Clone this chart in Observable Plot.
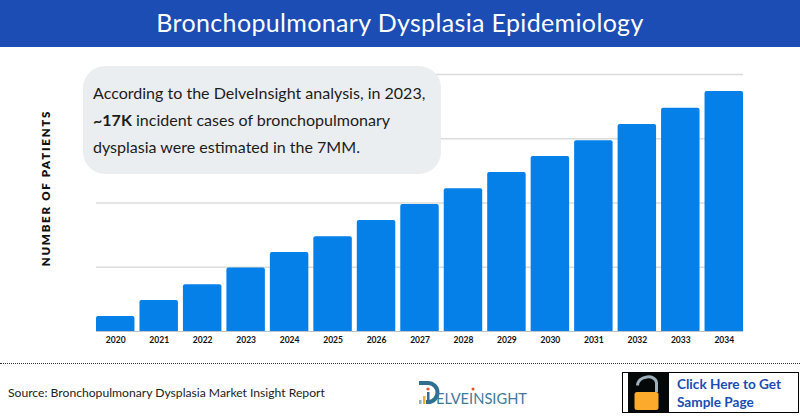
<!DOCTYPE html>
<html><head><meta charset="utf-8">
<script src="https://cdn.jsdelivr.net/npm/d3@7"></script>
<script src="https://cdn.jsdelivr.net/npm/@observablehq/plot@0.6"></script>
<style>
html,body{margin:0;padding:0;background:#fff;width:800px;height:420px;overflow:hidden;font-family:Lato,sans-serif}
#header{position:absolute;left:0;top:0;width:800px;height:47px;background:#1b4db5;color:#fff;font-size:25px;line-height:45px;text-align:center;letter-spacing:.35px}
#chart{position:absolute;left:0;top:47px}
#callout{position:absolute;left:83px;top:66px;width:358px;height:108px;background:#ebeef0;border-radius:22px;box-sizing:border-box;padding:13px 0 0 10px;font-size:16.05px;line-height:27px;color:#1c1c1c;white-space:nowrap}
#rule{position:absolute;left:0;top:363px;width:800px;border-top:1px dotted #333}
#source{position:absolute;left:8px;top:385px;font-size:12.15px;color:#222}
#logo{position:absolute;left:418px;top:380px}
#cta{position:absolute;left:622px;top:372px;width:177px;height:41px;border:1px solid #000;box-sizing:border-box;background:#fff}
#cta .dark{position:absolute;left:5px;top:0;width:41px;height:39px;background:#050808}
#cta .txt{position:absolute;left:54px;top:3px;font-weight:700;font-size:13.6px;line-height:17.5px;color:#1b4db5}
.ylab{letter-spacing:1.75px}
</style></head><body>
<div id="header">Bronchopulmonary Dysplasia Epidemiology</div>
<div id="chart"></div>
<div id="callout">According to the DelveInsight analysis, in 2023,<br><b>~17K</b> incident cases of bronchopulmonary<br>dysplasia were estimated in the 7MM.</div>
<div id="rule"></div>
<div id="source">Source: Bronchopulmonary Dysplasia Market Insight Report</div>
<svg id="logo" width="112" height="26" viewBox="0 0 112 26">
  <path d="M1 1h9a11.5 11.5 0 0 1 0 23H8v-4h2a7.5 7.5 0 0 0 0-15H1z" fill="#2f6f92"/>
  <rect x="1" y="20" width="2.5" height="4" fill="#8fb0c4"/><rect x="5" y="16" width="2.5" height="8" fill="#e8b13a"/>
  <rect x="9" y="12" width="2.5" height="9" fill="#2f6f92"/>
  <circle cx="10" cy="9" r="1.6" fill="#e2562f"/><circle cx="55" cy="9" r="1.5" fill="#e2562f"/>
  <text x="18" y="23.5" font-family="Lato" font-size="15" fill="#3f7a9a" textLength="91" lengthAdjust="spacingAndGlyphs">ELVEINSIGHT</text>
</svg>
<div id="cta"><div class="dark">
  <svg width="41" height="39" viewBox="0 0 41 39">
    <path d="M9.5 12.5C10 2 28 1 28.5 10V19" fill="none" stroke="#9fb0bd" stroke-width="3"/>
    <rect x="6.5" y="19" width="24" height="18" rx="2.5" fill="#fbaa2c"/>
  </svg></div>
  <div class="txt">Click Here to Get<br>Sample Page</div>
</div>
<script>
const years = ["2020","2021","2022","2023","2024","2025","2026","2027","2028","2029","2030","2031","2032","2033","2034"];
const cases = [4, 8.2, 12.4, 16.8, 20.9, 25.1, 29.4, 33.6, 37.8, 42.1, 46.3, 50.5, 54.8, 59.1, 63.5];
const gridValues = [17, 34, 51, 68];
const yLabel = "NUMBER OF PATIENTS";
const data = years.map((year, i) => ({year, value: cases[i]}));
const chart = Plot.plot({
  width: 800, height: 313,
  marginLeft: 96, marginRight: 57, marginTop: 27, marginBottom: 29,
  style: {fontFamily: "Lato, sans-serif", background: "transparent"},
  x: {domain: years, paddingInner: 0.115, paddingOuter: 0, round: false, label: null},
  y: {domain: [0, 68], axis: null},
  marks: [
    Plot.ruleY(gridValues, {stroke: "#dcdcdc", strokeWidth: 1.3}),
    Plot.barY(data, {x: "year", y: "value", fill: "#0580e8", rx1y1: 2, rx2y1: 2}),
    Plot.ruleY([0], {stroke: "#bfc3c7", strokeWidth: 1}),
    Plot.axisX({tickSize: 0, tickPadding: 5, fontWeight: 700, fontSize: 8.5, fill: "#111", label: null}),
    Plot.text([yLabel], {frameAnchor: "left", textAnchor: "middle", dx: -50, dy: -15, rotate: -90, fontWeight: 800, fontSize: 11.5, fill: "#111", className: "ylab"})
  ]
});
document.getElementById("chart").append(chart);
</script>
</body></html>
